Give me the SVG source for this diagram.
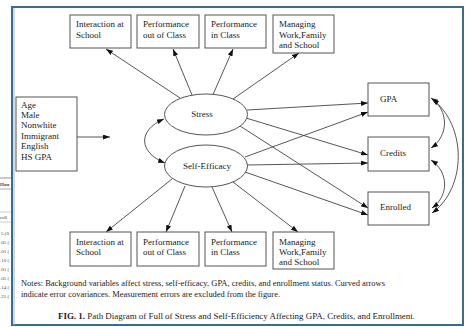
<svg xmlns="http://www.w3.org/2000/svg" width="469" height="327" viewBox="0 0 469 327">
<style>
.box{fill:#fff;stroke:#555;stroke-width:1}
.t{font-family:"Liberation Serif","Times New Roman",serif;font-size:9px;fill:#222}
.n{font-family:"Liberation Serif","Times New Roman",serif;font-size:8px;fill:#222}
.tb{font-family:"Liberation Serif",serif;font-size:5px;fill:#444}
.c{fill:none;stroke:#444;stroke-width:0.9}
</style>
<defs>
<marker id="ah" viewBox="0 0 7 5" refX="7" refY="2.5" markerWidth="7" markerHeight="5" markerUnits="userSpaceOnUse" orient="auto-start-reverse">
<path d="M0,0 L7,2.5 L0,5 z" fill="#111"/>
</marker>
<clipPath id="lc"><rect x="0" y="170" width="11" height="157"/></clipPath>
</defs>
<rect width="469" height="327" fill="#fff"/>
<g id="table-fragment" clip-path="url(#lc)">
<line x1="0" y1="178" x2="11" y2="178" stroke="#777" stroke-width="0.8"/>
<line x1="0" y1="189" x2="11" y2="189" stroke="#777" stroke-width="0.6"/>
<line x1="0" y1="212" x2="11" y2="212" stroke="#999" stroke-width="0.5"/>
<line x1="0" y1="222" x2="11" y2="222" stroke="#999" stroke-width="0.5"/>
<text class="tb" x="0" y="186" font-weight="bold">Hou</text>
<text class="tb" x="0" y="219">roll</text>
<text class="tb" x="1" y="235">5 (0</text>
<text class="tb" x="0" y="244">.05 (</text>
<text class="tb" x="0" y="253">.01 (</text>
<text class="tb" x="0" y="262">.10 (</text>
<text class="tb" x="0" y="271">.01 (</text>
<text class="tb" x="0" y="280">.05 (</text>
<text class="tb" x="0" y="289">.14 (</text>
<text class="tb" x="0" y="298">.21 (</text>
</g>
<rect x="12" y="7" width="451" height="318" fill="none" stroke="#3d6b8c" stroke-width="2"/>
<line x1="14" y1="8" x2="14" y2="325" stroke="#9bb6c9" stroke-width="1"/>

<g id="connectors">
<line class="c" x1="77" y1="137" x2="110" y2="137" marker-end="url(#ah)"/>
<line class="c" x1="180" y1="98" x2="106" y2="49" marker-end="url(#ah)"/>
<line class="c" x1="192" y1="95" x2="173" y2="49" marker-end="url(#ah)"/>
<line class="c" x1="213" y1="94.5" x2="233" y2="49" marker-end="url(#ah)"/>
<line class="c" x1="233" y1="99" x2="299" y2="53" marker-end="url(#ah)"/>
<line class="c" x1="172" y1="179" x2="106" y2="232" marker-end="url(#ah)"/>
<line class="c" x1="185" y1="186" x2="166" y2="232" marker-end="url(#ah)"/>
<line class="c" x1="212" y1="187" x2="232" y2="232" marker-end="url(#ah)"/>
<line class="c" x1="233" y1="182" x2="298" y2="232" marker-end="url(#ah)"/>
<line class="c" x1="247" y1="110" x2="368" y2="103" marker-end="url(#ah)"/>
<line class="c" x1="245" y1="157" x2="368" y2="112" marker-end="url(#ah)"/>
<line class="c" x1="246" y1="118" x2="368" y2="155" marker-end="url(#ah)"/>
<line class="c" x1="247" y1="165" x2="368" y2="163" marker-end="url(#ah)"/>
<line class="c" x1="240" y1="126" x2="368" y2="208" marker-end="url(#ah)"/>
<line class="c" x1="245" y1="172" x2="368" y2="215" marker-end="url(#ah)"/>
<path class="c" d="M164,119 C138,130 138,152 165,163" marker-start="url(#ah)" marker-end="url(#ah)"/>
<path class="c" d="M431,98 C449,110 449,136 431,148" marker-start="url(#ah)" marker-end="url(#ah)"/>
<path class="c" d="M431,160 C449,172 449,196 432,208" marker-start="url(#ah)" marker-end="url(#ah)"/>
<path class="c" d="M432,99 C467,125 467,188 432,213" marker-start="url(#ah)" marker-end="url(#ah)"/>
</g>

<g id="top-interaction"><rect class="box" x="70" y="15" width="61" height="33"/><text class="t" x="76" y="27">Interaction at</text><text class="t" x="76" y="38">School</text></g>
<g id="top-perf-out"><rect class="box" x="137" y="15" width="62" height="33"/><text class="t" x="143" y="27">Performance</text><text class="t" x="143" y="38">out of Class</text></g>
<g id="top-perf-in"><rect class="box" x="205" y="15" width="61" height="33"/><text class="t" x="211" y="27">Performance</text><text class="t" x="211" y="38">in Class</text></g>
<g id="top-managing"><rect class="box" x="273" y="15" width="61" height="38"/><text class="t" x="279" y="27">Managing</text><text class="t" x="279" y="38">Work,Family</text><text class="t" x="279" y="48">and School</text></g>

<g id="background"><rect class="box" x="16" y="97" width="61" height="74"/>
<text class="t" x="21" y="108">Age</text><text class="t" x="21" y="118">Male</text><text class="t" x="21" y="128">Nonwhite</text><text class="t" x="21" y="139">Immigrant</text><text class="t" x="21" y="149">English</text><text class="t" x="21" y="160">HS GPA</text></g>

<g id="stress"><ellipse class="box" cx="206" cy="114.5" rx="41.5" ry="20.5"/><text class="t" x="202" y="117" text-anchor="middle">Stress</text></g>
<g id="self-efficacy"><ellipse class="box" cx="206" cy="166" rx="41.5" ry="21"/><text class="t" x="207" y="169" text-anchor="middle">Self-Efficacy</text></g>

<g id="gpa"><rect class="box" x="368" y="83" width="61" height="33"/><text class="t" x="380" y="102">GPA</text></g>
<g id="credits"><rect class="box" x="368" y="137" width="61" height="34"/><text class="t" x="380" y="156">Credits</text></g>
<g id="enrolled"><rect class="box" x="368" y="192" width="61" height="33"/><text class="t" x="380" y="210">Enrolled</text></g>

<g id="bot-interaction"><rect class="box" x="70" y="232" width="61" height="34"/><text class="t" x="76" y="245">Interaction at</text><text class="t" x="76" y="255">School</text></g>
<g id="bot-perf-out"><rect class="box" x="137" y="232" width="62" height="34"/><text class="t" x="143" y="245">Performance</text><text class="t" x="143" y="255">out of Class</text></g>
<g id="bot-perf-in"><rect class="box" x="205" y="232" width="61" height="34"/><text class="t" x="211" y="245">Performance</text><text class="t" x="211" y="255">in Class</text></g>
<g id="bot-managing"><rect class="box" x="273" y="232" width="61" height="37"/><text class="t" x="279" y="245">Managing</text><text class="t" x="279" y="255">Work,Family</text><text class="t" x="279" y="265">and School</text></g>

<g id="notes">
<text class="n" x="21" y="286" textLength="364" lengthAdjust="spacingAndGlyphs">Notes:  Background variables affect stress, self-efficacy, GPA, credits, and enrollment status.  Curved arrows</text>
<text class="n" x="21" y="297" textLength="259" lengthAdjust="spacingAndGlyphs">indicate error covariances.  Measurement errors are excluded from the figure.</text>
<text class="n" x="58" y="319" textLength="357" lengthAdjust="spacingAndGlyphs"><tspan font-weight="bold">FIG. 1.</tspan> Path Diagram of Full of Stress and Self-Efficiency Affecting GPA, Credits, and Enrollment.</text>
</g>
</svg>
